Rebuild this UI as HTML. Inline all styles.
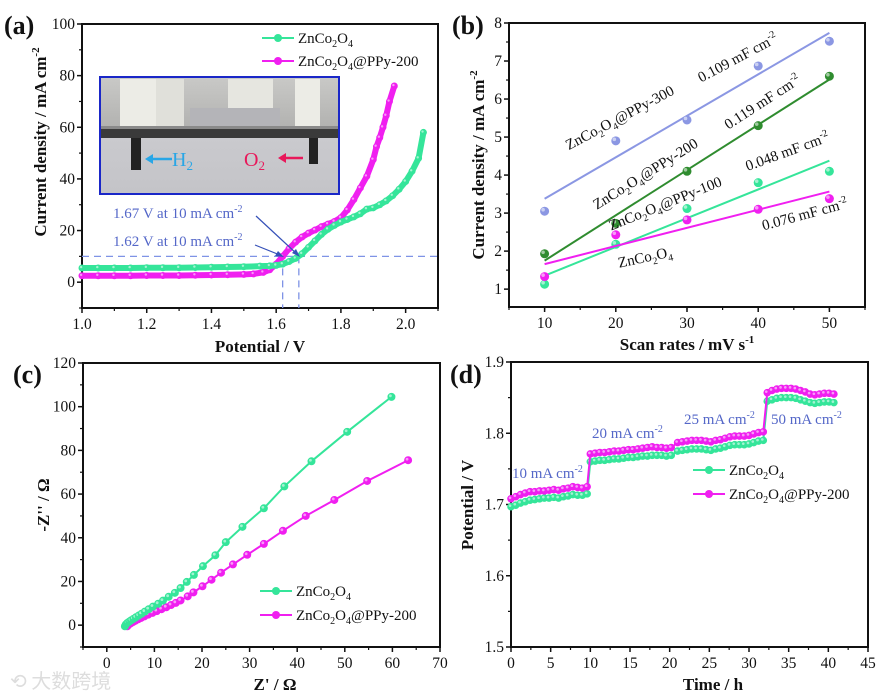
<!DOCTYPE html>
<html><head><meta charset="utf-8">
<style>
html,body{margin:0;padding:0;background:#fff;}
svg{display:block;font-family:"Liberation Serif",serif;}
.tk{font-size:15.5px;fill:#111;}
.ttl{font-size:17px;font-weight:bold;fill:#111;}
.pl{font-size:26px;font-weight:bold;fill:#111;}
.lg{font-size:15px;fill:#111;}
.an{font-size:15px;fill:#5467c8;}
.bl{font-size:15px;fill:#111;}
</style></head>
<body>
<svg id="fig" width="889" height="694" viewBox="0 0 889 694">
<defs>
<linearGradient id="photoTop" x1="0" y1="0" x2="0" y2="1"><stop offset="0" stop-color="#c9c9c7"/><stop offset="1" stop-color="#b0b0ae"/></linearGradient>
<linearGradient id="photoBot" x1="0" y1="0" x2="0" y2="1"><stop offset="0" stop-color="#d0d0d4"/><stop offset="1" stop-color="#c4c4c8"/></linearGradient>
</defs>
<text class="pl" x="4" y="34">(a)</text>
<text class="pl" x="452" y="34">(b)</text>
<text class="pl" x="13" y="383">(c)</text>
<text class="pl" x="450" y="383">(d)</text>

<text class="ttl" transform="translate(46,142) rotate(-90)" text-anchor="middle">Current density / mA cm<tspan font-size="11" dy="-7">-2</tspan></text>
<text class="ttl" x="260" y="352" text-anchor="middle">Potential / V</text>
<text class="ttl" transform="translate(484,165) rotate(-90)" text-anchor="middle">Current density / mA cm<tspan font-size="11" dy="-7">-2</tspan></text>
<text class="ttl" x="687" y="350" text-anchor="middle">Scan rates / mV s<tspan font-size="11" dy="-7">-1</tspan></text>
<text class="ttl" transform="translate(49,505) rotate(-90)" text-anchor="middle">-Z'' / Ω</text>
<text class="ttl" x="275" y="690" text-anchor="middle">Z' / Ω</text>
<text class="ttl" transform="translate(473,505) rotate(-90)" text-anchor="middle">Potential / V</text>
<text class="ttl" x="713" y="690" text-anchor="middle">Time / h</text>

<g id="gA"></g>
<g id="gB"></g>
<g id="gC"></g>
<g id="gD"></g>

<g>
<rect x="100" y="77" width="239" height="117" fill="url(#photoBot)"/>
<rect x="100" y="77" width="239" height="55" fill="url(#photoTop)"/>
<rect x="120" y="79" width="36" height="50" fill="#ecece6"/>
<rect x="156" y="79" width="28" height="50" fill="#e0e0da"/>
<rect x="228" y="79" width="45" height="38" fill="#e6e6e0"/>
<rect x="190" y="108" width="90" height="20" fill="#b4b4b8"/>
<rect x="295" y="79" width="25" height="50" fill="#ecece6"/>
<rect x="100" y="128" width="239" height="10" fill="#3a3a3a"/>
<rect x="100" y="126" width="239" height="3" fill="#8a8a8a"/>
<rect x="131" y="138" width="10" height="32" fill="#222"/>
<rect x="309" y="138" width="9" height="26" fill="#222"/>
<line x1="172" y1="159" x2="150" y2="159" stroke="#28a6e6" stroke-width="2.5"/>
<polygon points="145,159 153,154 153,164" fill="#28a6e6"/>
<text x="172" y="166" font-size="20" fill="#28a6e6">H<tspan font-size="13" dy="4">2</tspan></text>
<text x="244" y="166" font-size="20" fill="#e8185a">O<tspan font-size="13" dy="4">2</tspan></text>
<line x1="303" y1="158" x2="284" y2="158" stroke="#e8185a" stroke-width="2.5"/>
<polygon points="278,158 286,153 286,163" fill="#e8185a"/>
<rect x="100" y="77" width="239" height="117" fill="none" stroke="#1a27c8" stroke-width="2"/>
</g>

<text class="an" x="113" y="218">1.67 V at 10 mA cm<tspan font-size="10" dy="-6">-2</tspan></text>
<text class="an" x="113" y="246">1.62 V at 10 mA cm<tspan font-size="10" dy="-6">-2</tspan></text>
<line x1="256" y1="216" x2="298" y2="255" stroke="#3550b8" stroke-width="1.2"/>
<polygon points="300,257 292,253 296,249" fill="#3550b8"/>
<line x1="255" y1="245" x2="280" y2="255" stroke="#3550b8" stroke-width="1.2"/>
<polygon points="284,257 275,256 278,251" fill="#3550b8"/>

<text class="an" x="512" y="478">10 mA cm<tspan font-size="10" dy="-6">-2</tspan></text>
<text class="an" x="592" y="438">20 mA cm<tspan font-size="10" dy="-6">-2</tspan></text>
<text class="an" x="684" y="424">25 mA cm<tspan font-size="10" dy="-6">-2</tspan></text>
<text class="an" x="771" y="424">50 mA cm<tspan font-size="10" dy="-6">-2</tspan></text>

<text class="bl" transform="translate(622,122) rotate(-28)" text-anchor="middle">ZnCo<tspan font-size="10" dy="4">2</tspan><tspan dy="-4">O</tspan><tspan font-size="10" dy="4">4</tspan><tspan dy="-4">@PPy-300</tspan></text>
<text class="bl" transform="translate(740,62) rotate(-28)" text-anchor="middle">0.109 mF cm<tspan font-size="10" dy="-6">-2</tspan></text>
<text class="bl" transform="translate(648,178) rotate(-32)" text-anchor="middle">ZnCo<tspan font-size="10" dy="4">2</tspan><tspan dy="-4">O</tspan><tspan font-size="10" dy="4">4</tspan><tspan dy="-4">@PPy-200</tspan></text>
<text class="bl" transform="translate(765,106) rotate(-33)" text-anchor="middle">0.119 mF cm<tspan font-size="10" dy="-6">-2</tspan></text>
<text class="bl" transform="translate(667,208) rotate(-22)" text-anchor="middle">ZnCo<tspan font-size="10" dy="4">2</tspan><tspan dy="-4">O</tspan><tspan font-size="10" dy="4">4</tspan><tspan dy="-4">@PPy-100</tspan></text>
<text class="bl" transform="translate(789,156) rotate(-20)" text-anchor="middle">0.048 mF cm<tspan font-size="10" dy="-6">-2</tspan></text>
<text class="bl" transform="translate(806,219) rotate(-15)" text-anchor="middle">0.076 mF cm<tspan font-size="10" dy="-6">-2</tspan></text>
<text class="bl" transform="translate(646,262) rotate(-12)" text-anchor="middle">ZnCo<tspan font-size="10" dy="4">2</tspan><tspan dy="-4">O</tspan><tspan font-size="10" dy="4">4</tspan></text>

<text x="10" y="688" font-size="20" fill="#ddd" font-family="'Noto Sans CJK SC',sans-serif">⟲ 大数跨境</text>
</svg>
<script>
const aGreenV = [1.00,1.05,1.10,1.15,1.20,1.25,1.30,1.35,1.40,1.45,1.50,1.55,1.58,1.60,1.62,1.64,1.66,1.68,1.70,1.72,1.74,1.76,1.78,1.80,1.82,1.84,1.86,1.88,1.90,1.92,1.94,1.96,1.98,2.00,2.02,2.04,2.055];
const aGreenJ = [5.5,5.5,5.5,5.5,5.6,5.6,5.6,5.7,5.8,5.9,6.0,6.2,6.3,6.5,7.0,8.0,9.2,11.0,13.5,16.0,18.5,20.5,22.0,23.3,24.3,25.3,26.5,28.3,28.8,30.0,31.5,33.5,36.0,39.0,43.0,48.0,58.0];
const aMagV = [1.00,1.05,1.10,1.15,1.20,1.25,1.30,1.35,1.40,1.45,1.50,1.53,1.56,1.58,1.60,1.62,1.64,1.66,1.68,1.70,1.72,1.74,1.76,1.78,1.80,1.82,1.84,1.86,1.88,1.90,1.91,1.92,1.93,1.94,1.95,1.965];
const aMagJ = [2.5,2.5,2.5,2.5,2.6,2.6,2.6,2.7,2.8,2.9,3.0,3.2,3.8,4.8,7.0,10.0,13.0,15.5,17.5,19.0,20.2,21.5,22.5,23.5,25.0,28.0,32.0,36.5,41.0,47.5,52.5,56.0,60.0,64.5,70.0,76.0];
const aRefJ = 10;
const aRefV = [1.62, 1.67];
const aXTicks = [1.0,1.2,1.4,1.6,1.8,2.0];
const aXTickLabels = ["1.0","1.2","1.4","1.6","1.8","2.0"];
const aYTicks = [0,20,40,60,80,100];
const bRates = [10,20,30,40,50];
const bPPy300 = [3.05,4.90,5.45,6.87,7.52];
const bPPy200 = [1.93,2.73,4.10,5.30,6.60];
const bPPy100 = [1.13,2.18,3.12,3.80,4.10];
const bZnCo = [1.33,2.43,2.82,3.10,3.38];
const bXTicks = [10,20,30,40,50];
const bYTicks = [1,2,3,4,5,6,7,8];
const cGreenX = [3.8,4.0,4.3,4.7,5.1,5.6,6.1,6.7,7.3,8.0,8.8,9.7,10.8,11.8,13.0,14.3,15.5,16.8,18.3,20.2,22.8,25.0,28.5,33.0,37.3,43.0,50.5,59.8];
const cGreenY = [-0.5,0.3,1.0,1.6,2.2,2.9,3.6,4.4,5.2,6.2,7.3,8.5,9.8,11.2,13.0,14.8,17.0,19.8,23.0,27.0,32.0,38.0,45.0,53.5,63.5,75.0,88.5,104.5];
const cMagX = [4.3,4.6,5.0,5.5,6.0,6.6,7.2,7.9,8.7,9.6,10.5,11.5,12.5,13.5,14.5,15.5,17.0,18.2,20.1,22.0,24.0,26.5,29.5,33.0,37.0,41.8,47.8,54.7,63.3];
const cMagY = [-0.5,0.2,0.8,1.4,2.0,2.7,3.3,4.0,4.8,5.6,6.4,7.3,8.2,9.2,10.2,11.3,13.2,15.0,17.8,20.8,24.0,27.8,32.2,37.2,43.2,50.0,57.3,66.0,75.5];
const cXTicks = [0,10,20,30,40,50,60,70];
const cYTicks = [0,20,40,60,80,100,120];
const dSegStart = [0,10,21,32.3];
const dStep = 0.6;
const dGreen = [
 [1.697,1.699,1.702,1.704,1.706,1.707,1.708,1.709,1.709,1.710,1.709,1.711,1.712,1.714,1.713,1.713,1.715],
 [1.760,1.761,1.762,1.762,1.763,1.764,1.764,1.765,1.766,1.766,1.767,1.768,1.768,1.769,1.769,1.769,1.768,1.769],
 [1.775,1.776,1.777,1.778,1.778,1.778,1.777,1.776,1.778,1.779,1.781,1.783,1.784,1.784,1.784,1.785,1.787,1.789,1.790],
 [1.845,1.847,1.849,1.850,1.850,1.850,1.849,1.847,1.845,1.843,1.842,1.843,1.844,1.844,1.843]];
const dMag = [
 [1.708,1.711,1.714,1.716,1.718,1.718,1.719,1.719,1.720,1.721,1.720,1.722,1.723,1.725,1.724,1.723,1.725],
 [1.771,1.772,1.773,1.773,1.774,1.775,1.775,1.776,1.777,1.777,1.778,1.779,1.780,1.781,1.780,1.780,1.779,1.780],
 [1.787,1.788,1.789,1.790,1.790,1.790,1.789,1.788,1.790,1.791,1.793,1.795,1.796,1.796,1.796,1.797,1.799,1.801,1.802],
 [1.857,1.860,1.862,1.863,1.863,1.863,1.862,1.860,1.858,1.855,1.854,1.855,1.856,1.856,1.855]];
const dXTicks = [0,5,10,15,20,25,30,35,40,45];
const dYTicks = [1.5,1.6,1.7,1.8,1.9];
const dYTickLabels = ["1.5","1.6","1.7","1.8","1.9"];

const NS = "http://www.w3.org/2000/svg";
const GREEN = "#35e59a", MAG = "#f01ff0", BLUE = "#8b97e3", DGREEN = "#2f8c2f";
function mk(tag, attrs, parent){ const e=document.createElementNS(NS,tag); for(const k in attrs) e.setAttribute(k,attrs[k]); parent.appendChild(e); return e; }
function axis(p){ return { sx:v=>p.x0+(v-p.xmin)/(p.xmax-p.xmin)*(p.x1-p.x0), sy:v=>p.y1-(v-p.ymin)/(p.ymax-p.ymin)*(p.y1-p.y0) }; }
function frame(g,p,ax,xt,xl,yt,yl,xminor,yminor,nm){
  const r=mk('rect',{x:p.x0,y:p.y0,width:p.x1-p.x0,height:p.y1-p.y0,fill:'none',stroke:'#111','stroke-width':2},g);
  
  
  xt.forEach((v,i)=>{ const x=ax.sx(v);
    mk('line',{x1:x,y1:p.y1,x2:x,y2:p.y1+5,stroke:'#111','stroke-width':1.5},g);
    const t=mk('text',{x:x,y:p.y1+21,'text-anchor':'middle',class:'tk'},g); t.textContent=xl?xl[i]:String(v);
    
    
  });
  xminor.forEach(v=>{const x=ax.sx(v); mk('line',{x1:x,y1:p.y1,x2:x,y2:p.y1+3,stroke:'#111','stroke-width':1.2},g);});
  yt.forEach((v,i)=>{ const y=ax.sy(v);
    mk('line',{x1:p.x0,y1:y,x2:p.x0-5,y2:y,stroke:'#111','stroke-width':1.5},g);
    const t=mk('text',{x:p.x0-7,y:y+5,'text-anchor':'end',class:'tk'},g); t.textContent=yl?yl[i]:String(v);
    
    
  });
  yminor.forEach(v=>{const y=ax.sy(v); mk('line',{x1:p.x0,y1:y,x2:p.x0-3,y2:y,stroke:'#111','stroke-width':1.2},g);});
}
function series(g,ax,xs,ys,col,r,lw,nm){
  const pts=xs.map((x,i)=>ax.sx(x)+','+ax.sy(ys[i])).join(' ');
  const pl=mk('polyline',{points:pts,fill:'none',stroke:col,'stroke-width':lw},g);
  
  
  xs.forEach((x,i)=>{ const c=mk('circle',{cx:ax.sx(x),cy:ax.sy(ys[i]),r:r,fill:col,stroke:col,'stroke-width':1},g);
    
    
    mk('circle',{cx:ax.sx(x)-r*0.3,cy:ax.sy(ys[i])-r*0.3,r:r*0.4,fill:'#fff',opacity:0.55},g);
  });
}
function legend(g,x,y,col,lines,nm){
  const l=mk('line',{x1:x,y1:y,x2:x+32,y2:y,stroke:col,'stroke-width':2},g);
  
  
  mk('circle',{cx:x+16,cy:y,r:4,fill:col},g);
  const t=mk('text',{x:x+36,y:y+5,class:'lg'},g);
  
  
  t.innerHTML=lines;
}
const ZN='ZnCo<tspan font-size="10" dy="4">2</tspan><tspan dy="-4">O</tspan><tspan font-size="10" dy="4">4</tspan>';
const ZNP='ZnCo<tspan font-size="10" dy="4">2</tspan><tspan dy="-4">O</tspan><tspan font-size="10" dy="4">4</tspan><tspan dy="-4">@PPy-200</tspan>';
function range(a,b,s){const r=[];for(let v=a;v<=b+1e-9;v+=s)r.push(+v.toFixed(4));return r;}

(function(){
  const g=document.getElementById('gA');
  const p={x0:82,x1:438,y0:24,y1:308,xmin:1.0,xmax:2.1,ymin:-10,ymax:100};
  const ax=axis(p);
  frame(g,p,ax,aXTicks,aXTickLabels,aYTicks,null,range(1.1,2.1,0.2),range(-10,90,20),'a');
  const dl={stroke:'#7f93e6','stroke-width':1.3,'stroke-dasharray':'7,5',fill:'none'};
  const h=mk('line',Object.assign({x1:p.x0,y1:ax.sy(aRefJ),x2:p.x1,y2:ax.sy(aRefJ)},dl),g);
  
  
  aRefV.forEach(v=>{ const l=mk('line',Object.assign({x1:ax.sx(v),y1:ax.sy(aRefJ),x2:ax.sx(v),y2:p.y1},dl),g);
    
     });
  series(g,ax,aMagV,aMagJ,MAG,3,6,'a-znco2o4-ppy200');
  series(g,ax,aGreenV,aGreenJ,GREEN,3,6,'a-znco2o4');
  legend(g,262,38,GREEN,ZN,'a-znco2o4');
  legend(g,262,61,MAG,ZNP,'a-znco2o4-ppy200');
})();

(function(){
  const g=document.getElementById('gB');
  const p={x0:509,x1:865,y0:23,y1:307,xmin:5,xmax:55,ymin:0.53,ymax:8};
  const ax=axis(p);
  frame(g,p,ax,bXTicks,null,bYTicks,null,range(5,55,5),range(1.5,7.5,1),'b');
  function fit(ys,col,nm){
    const n=bRates.length, mx=bRates.reduce((a,b)=>a+b)/n, my=ys.reduce((a,b)=>a+b)/n;
    let sxy=0,sxx=0; bRates.forEach((x,i)=>{sxy+=(x-mx)*(ys[i]-my);sxx+=(x-mx)*(x-mx);});
    const k=sxy/sxx, x0=bRates[0], x1=bRates[n-1];
    const l=mk('line',{x1:ax.sx(x0),y1:ax.sy(my+k*(x0-mx)),x2:ax.sx(x1),y2:ax.sy(my+k*(x1-mx)),stroke:col,'stroke-width':2},g);
    
    
    bRates.forEach((x,i)=>{ const c=mk('circle',{cx:ax.sx(x),cy:ax.sy(ys[i]),r:4.5,fill:col},g);
      
      
      mk('circle',{cx:ax.sx(x)-1.5,cy:ax.sy(ys[i])-1.5,r:1.8,fill:'#fff',opacity:0.55},g); });
  }
  fit(bPPy300,BLUE,'b-ppy300');
  fit(bPPy200,DGREEN,'b-ppy200');
  fit(bPPy100,GREEN,'b-ppy100');
  fit(bZnCo,MAG,'b-znco2o4');
})();

(function(){
  const g=document.getElementById('gC');
  const p={x0:83,x1:440,y0:363,y1:647,xmin:-5,xmax:70,ymin:-10,ymax:120};
  const ax=axis(p);
  frame(g,p,ax,cXTicks,null,cYTicks,null,range(-5,65,10),range(-10,110,20),'c');
  series(g,ax,cMagX,cMagY,MAG,3.5,2,'c-znco2o4-ppy200');
  series(g,ax,cGreenX,cGreenY,GREEN,3.5,2,'c-znco2o4');
  legend(g,260,591,GREEN,ZN,'c-znco2o4');
  legend(g,260,615,MAG,ZNP,'c-znco2o4-ppy200');
})();

(function(){
  const g=document.getElementById('gD');
  const p={x0:511,x1:868,y0:362,y1:647,xmin:0,xmax:45,ymin:1.5,ymax:1.9};
  const ax=axis(p);
  frame(g,p,ax,dXTicks,null,dYTicks,dYTickLabels,range(2.5,42.5,5),range(1.55,1.85,0.1),'d');
  function flat(segs){const xs=[],ys=[];segs.forEach((s,k)=>s.forEach((v,i)=>{xs.push(dSegStart[k]+i*dStep);ys.push(v);}));return [xs,ys];}
  const m=flat(dMag), gr=flat(dGreen);
  series(g,ax,gr[0],gr[1],GREEN,3.3,2,'d-znco2o4');
  series(g,ax,m[0],m[1],MAG,3.3,2,'d-znco2o4-ppy200');
  legend(g,693,470,GREEN,ZN,'d-znco2o4');
  legend(g,693,494,MAG,ZNP,'d-znco2o4-ppy200');
})();
</script>
</body></html>
